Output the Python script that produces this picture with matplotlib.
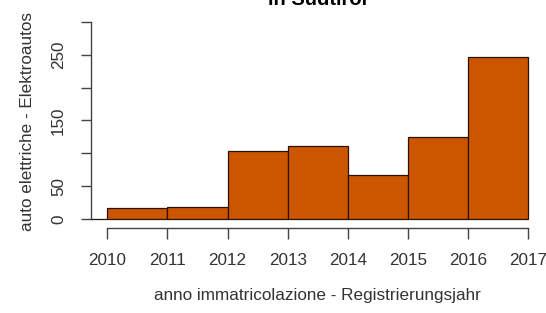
import matplotlib
import numpy as np

matplotlib.rcParams["font.family"] = ["Liberation Sans", "DejaVu Sans"]

import matplotlib.pyplot as plt

matplotlib.rcParams.update(
    {
        "font.size": 12.3,
        "axes.linewidth": 1.0,
        "xtick.major.width": 1.0,
        "ytick.major.width": 1.0,
        "xtick.color": "#444444",
        "ytick.color": "#444444",
        "xtick.labelcolor": "#333333",
        "ytick.labelcolor": "#333333",
    }
)

# registration year bins (left edges) and counts of electric cars
bin_left = np.array([2009, 2010, 2011, 2012, 2013, 2014, 2015, 2016])
counts = np.array([0, 16, 18, 104, 111, 67, 125, 246])

x_ticks = [2010, 2011, 2012, 2013, 2014, 2015, 2016, 2017]
y_ticks = [0, 50, 100, 150, 200, 250, 300]
y_ticklabels = ["0", "50", "", "150", "", "250", ""]

fig = plt.figure(figsize=(5.46, 3.13), dpi=100)
ax = fig.add_axes([0.1658, 0.270, 0.8321, 0.6853])

ax.bar(
    bin_left, counts, width=1.0, align="edge",
    color="#cc5500", edgecolor="#2a1200", linewidth=0.9,
)

ax.set_xlim(2009.72, 2017.28)
ax.set_ylim(-14.5, 312)

for spine in ("top", "right"):
    ax.spines[spine].set_visible(False)
ax.spines["left"].set_bounds(0, 300)
ax.spines["bottom"].set_bounds(2010, 2017)
ax.spines["left"].set_color("#444444")
ax.spines["bottom"].set_color("#444444")

ax.set_xticks(x_ticks)
ax.set_xticklabels([str(x) for x in x_ticks])
ax.set_yticks(y_ticks)
ax.set_yticklabels(y_ticklabels, rotation=90, va="center")
ax.tick_params(axis="x", direction="out", length=8, pad=10)
ax.tick_params(axis="y", direction="out", length=7.5, pad=10)

ax.set_xlabel("anno immatricolazione - Registrierungsjahr", labelpad=14, color="#333333")
ax.set_ylabel("auto elettriche - Elektroautos", labelpad=12, color="#333333")

fig.text(318 / 546, 1 - 5 / 313, "in Südtirol", ha="center", va="baseline",
         fontsize=14.5, fontweight="bold")

fig.savefig("out.png", dpi=100)
